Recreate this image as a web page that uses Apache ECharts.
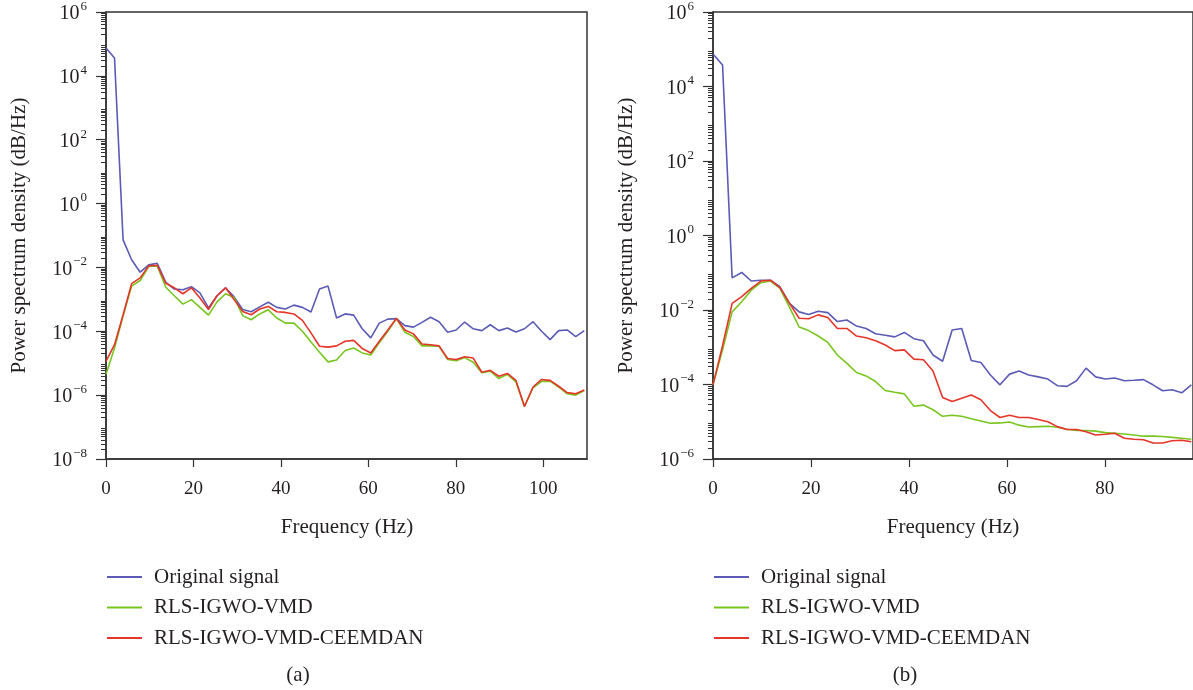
<!DOCTYPE html>
<html>
<head>
<meta charset="utf-8">
<script src="https://cdn.jsdelivr.net/npm/echarts@6/dist/echarts.min.js"></script>
<style>
html,body{margin:0;padding:0;background:#fff;}
#chart{width:1193px;height:690px;}
</style>
</head>
<body>
<div id="chart"></div>
<script>
// ---------- DATA ----------
const freq = [0, 1.95, 3.91, 5.86, 7.81, 9.77, 11.72, 13.67, 15.63, 17.58, 19.53, 21.48, 23.44, 25.39, 27.34, 29.30, 31.25, 33.20, 35.16, 37.11, 39.06, 41.02, 42.97, 44.92, 46.88, 48.83, 50.78, 52.73, 54.69, 56.64, 58.59, 60.55, 62.50, 64.45, 66.41, 68.36, 70.31, 72.27, 74.22, 76.17, 78.13, 80.08, 82.03, 83.98, 85.94, 87.89, 89.84, 91.80, 93.75, 95.70, 97.66, 99.61, 101.56, 103.52, 105.47, 107.42, 109.38];

const seriesNames = ['Original signal', 'RLS-IGWO-VMD', 'RLS-IGWO-VMD-CEEMDAN'];

// (a)
const leftOriginal = [7.5e4, 3.6e4, 0.073, 0.0174, 0.0071, 0.012, 0.0135, 0.0034, 0.0021, 0.002, 0.0025, 0.0016, 5.4e-4, 0.0013, 0.0023, 0.0012, 4.8e-4, 4.1e-4, 5.8e-4, 8.1e-4, 5.6e-4, 5.0e-4, 6.6e-4, 5.6e-4, 4.0e-4, 0.0021, 0.0026, 2.6e-4, 3.5e-4, 3.2e-4, 1.2e-4, 6.2e-5, 1.8e-4, 2.4e-4, 2.5e-4, 1.5e-4, 1.35e-4, 1.9e-4, 2.75e-4, 2.0e-4, 9.3e-5, 1.1e-4, 1.95e-4, 1.2e-4, 1.05e-4, 1.6e-4, 1.05e-4, 1.26e-4, 9.5e-5, 1.2e-4, 2.0e-4, 1.0e-4, 5.5e-5, 1.05e-4, 1.1e-4, 6.8e-5, 1.05e-4];
const leftVMD = [4.5e-6, 3.0e-5, 3.0e-4, 0.0026, 0.0039, 0.0107, 0.0112, 0.0024, 0.0013, 7.1e-4, 9.8e-4, 5.6e-4, 3.2e-4, 8.3e-4, 0.0015, 0.00115, 3.1e-4, 2.3e-4, 3.5e-4, 4.7e-4, 2.6e-4, 1.8e-4, 1.8e-4, 1.0e-4, 4.6e-5, 2.2e-5, 1.1e-5, 1.26e-5, 2.5e-5, 3.0e-5, 2.1e-5, 1.8e-5, 4.4e-5, 1.0e-4, 2.5e-4, 9.3e-5, 6.9e-5, 3.5e-5, 3.5e-5, 3.4e-5, 1.3e-5, 1.2e-5, 1.5e-5, 1.07e-5, 5.0e-6, 5.6e-6, 3.3e-6, 4.5e-6, 2.6e-6, 4.4e-7, 1.7e-6, 2.7e-6, 2.75e-6, 1.8e-6, 1.1e-6, 1.0e-6, 1.4e-6];
const leftCEEMDAN = [1.15e-5, 3.8e-5, 3.3e-4, 0.0031, 0.0047, 0.0112, 0.0117, 0.0032, 0.0023, 0.0015, 0.0023, 0.0011, 4.8e-4, 0.0013, 0.0023, 9.8e-4, 4.2e-4, 3.3e-4, 5.0e-4, 6.0e-4, 4.1e-4, 3.9e-4, 3.5e-4, 2.2e-4, 8.9e-5, 3.4e-5, 3.2e-5, 3.5e-5, 4.9e-5, 5.2e-5, 2.9e-5, 2.1e-5, 4.9e-5, 1.1e-4, 2.5e-4, 1.1e-4, 8.3e-5, 4.0e-5, 3.8e-5, 3.5e-5, 1.4e-5, 1.3e-5, 1.6e-5, 1.45e-5, 5.2e-6, 6.0e-6, 3.9e-6, 4.8e-6, 2.9e-6, 4.4e-7, 1.8e-6, 3.1e-6, 2.9e-6, 1.9e-6, 1.2e-6, 1.1e-6, 1.45e-6];

// (b)
const rightOriginal = [7.5e4, 3.8e4, 0.073, 0.102, 0.060, 0.063, 0.063, 0.042, 0.015, 0.0089, 0.0076, 0.0093, 0.0085, 0.0049, 0.0054, 0.0037, 0.0032, 0.0023, 0.0021, 0.0019, 0.0025, 0.0017, 0.0015, 6.2e-4, 4.2e-4, 0.0029, 0.0032, 4.4e-4, 3.9e-4, 1.8e-4, 9.8e-5, 1.9e-4, 2.3e-4, 1.8e-4, 1.6e-4, 1.4e-4, 9.3e-5, 8.9e-5, 1.26e-4, 2.75e-4, 1.6e-4, 1.4e-4, 1.5e-4, 1.26e-4, 1.3e-4, 1.35e-4, 9.8e-5, 6.8e-5, 7.2e-5, 6.0e-5, 9.8e-5];
const rightVMD = [9.8e-5, 8.5e-4, 0.0089, 0.0166, 0.034, 0.054, 0.060, 0.038, 0.0117, 0.0035, 0.0028, 0.002, 0.00135, 6.2e-4, 3.7e-4, 2.1e-4, 1.7e-4, 1.2e-4, 6.9e-5, 6.2e-5, 5.6e-5, 2.6e-5, 2.8e-5, 2.1e-5, 1.4e-5, 1.5e-5, 1.4e-5, 1.2e-5, 1.05e-5, 9.1e-6, 9.3e-6, 9.8e-6, 8.1e-6, 7.2e-6, 7.4e-6, 7.6e-6, 7.1e-6, 6.3e-6, 5.8e-6, 5.8e-6, 5.6e-6, 5.1e-6, 4.9e-6, 4.7e-6, 4.4e-6, 4.1e-6, 4.1e-6, 4.0e-6, 3.8e-6, 3.6e-6, 3.4e-6];
const rightCEEMDAN = [9.8e-5, 0.0011, 0.015, 0.023, 0.038, 0.060, 0.063, 0.040, 0.015, 0.006, 0.0058, 0.0074, 0.0063, 0.0032, 0.0032, 0.002, 0.0018, 0.0015, 0.00115, 8.1e-4, 8.5e-4, 4.8e-4, 4.6e-4, 2.3e-4, 4.5e-5, 3.5e-5, 4.3e-5, 5.2e-5, 3.9e-5, 2.0e-5, 1.3e-5, 1.5e-5, 1.3e-5, 1.3e-5, 1.15e-5, 1.0e-5, 7.4e-6, 6.2e-6, 6.2e-6, 5.4e-6, 4.4e-6, 4.6e-6, 4.9e-6, 3.6e-6, 3.4e-6, 3.3e-6, 2.7e-6, 2.7e-6, 3.1e-6, 3.2e-6, 2.9e-6];

// axis ticks / labels
const xTicks = [0, 20, 40, 60, 80, 100];
const leftYMajor = [1e-8, 1e-6, 1e-4, 1e-2, 1, 1e2, 1e4, 1e6];
const rightYMajor = [1e-6, 1e-4, 1e-2, 1, 1e2, 1e4, 1e6];
const minorMultipliers = [2, 3, 4, 5, 6, 7, 8, 9];
const leftDecades = [-8, -7, -6, -5, -4, -3, -2, -1, 0, 1, 2, 3, 4, 5];
const rightDecades = [-6, -5, -4, -3, -2, -1, 0, 1, 2, 3, 4, 5];

// ---------- STYLE ----------
const FONT = 'Liberation Serif';
const TXT = '#231f20';
const AX = '#333333';
const colors = ['#5b5bb5', '#78c51e', '#e5352a'];

function minorTicks(decades) {
  const out = [];
  decades.forEach(d => minorMultipliers.forEach(m => out.push(m * Math.pow(10, d))));
  return out;
}
function supLabel(v) {
  const e = Math.round(Math.log10(v));
  const s = e < 0 ? '\u2212' + (-e) : String(e);
  return '{b|10}{s|' + s + '}';
}
const richLab = {
  b: {fontFamily: FONT, fontSize: 20, color: TXT, lineHeight: 24, verticalAlign: 'bottom'},
  s: {fontFamily: FONT, fontSize: 13, color: TXT, lineHeight: 14, verticalAlign: 'top', padding: [0, 0, 0, 1]}
};

function pairs(arr) { return arr.map((v, i) => [freq[i], v]); }

const grids = [
  {left: 106, top: 11, width: 481, height: 448, show: true, borderColor: AX, borderWidth: 1.5},
  {left: 713, top: 11, width: 480, height: 448, show: true, borderColor: AX, borderWidth: 1.5}
];

function xAxis(gi, max) {
  return {
    type: 'value', gridIndex: gi, min: 0, max: max,
    axisLine: {show: true, lineStyle: {color: AX, width: 1.5}},
    axisTick: {show: true, length: 8, lineStyle: {color: AX, width: 1.2}, customValues: xTicks.filter(t => t <= max)},
    axisLabel: {fontFamily: FONT, fontSize: 19, color: TXT, margin: 21, customValues: xTicks.filter(t => t <= max)},
    splitLine: {show: false}
  };
}
function yMajor(gi, min, max, labels) {
  return {
    type: 'log', logBase: 10, gridIndex: gi, min: min, max: max,
    name: 'Power spectrum density (dB/Hz)', nameLocation: 'middle', nameGap: 76, nameRotate: 90,
    nameTextStyle: {fontFamily: FONT, fontSize: 21, color: TXT},
    axisLine: {show: true, lineStyle: {color: AX, width: 1.5}},
    axisTick: {show: true, length: 10, lineStyle: {color: AX, width: 1.2}, customValues: labels},
    axisLabel: {customValues: labels, formatter: supLabel, rich: richLab, margin: 19},
    splitLine: {show: false}, minorTick: {show: false}
  };
}
function yMinor(gi, min, max, decades) {
  return {
    type: 'log', logBase: 10, gridIndex: gi, min: min, max: max, position: 'left', offset: 0,
    axisLine: {show: false},
    axisTick: {show: true, length: 5, lineStyle: {color: AX, width: 1}, customValues: minorTicks(decades).filter(v => v > min && v < max)},
    axisLabel: {show: false},
    splitLine: {show: false}
  };
}

const series = [];
[[leftOriginal, leftVMD, leftCEEMDAN], [rightOriginal, rightVMD, rightCEEMDAN]].forEach((set, gi) => {
  set.forEach((arr, k) => {
    series.push({
      name: seriesNames[k], type: 'line', xAxisIndex: gi, yAxisIndex: gi * 2,
      data: pairs(arr), symbol: 'none', smooth: false, animation: false,
      lineStyle: {color: colors[k], width: 1.6}, itemStyle: {color: colors[k]},
      z: k === 0 ? 2 : (k === 1 ? 3 : 4)
    });
  });
});

function legend(left) {
  return {
    orient: 'vertical', left: left, top: 566, padding: 0, itemWidth: 35, itemHeight: 2, itemGap: 8.5,
    icon: 'rect', data: seriesNames, selectedMode: false,
    textStyle: {fontFamily: FONT, fontSize: 21, color: TXT, lineHeight: 22, padding: [0, 0, 0, 7]}
  };
}

const option = {
  backgroundColor: '#fff',
  animation: false,
  grid: grids,
  xAxis: [xAxis(0, 110), xAxis(1, 98)],
  yAxis: [yMajor(0, 1e-8, 1e6, leftYMajor), yMinor(0, 1e-8, 1e6, leftDecades),
          yMajor(1, 1e-6, 1e6, rightYMajor), yMinor(1, 1e-6, 1e6, rightDecades)],
  legend: [legend(107), legend(714)],
  series: series,
  graphic: [
    {type: 'text', style: {text: 'Frequency (Hz)', fontFamily: FONT, fontSize: 21, fill: TXT, x: 347, y: 527, align: 'center', verticalAlign: 'middle'}},
    {type: 'text', style: {text: 'Frequency (Hz)', fontFamily: FONT, fontSize: 21, fill: TXT, x: 953, y: 527, align: 'center', verticalAlign: 'middle'}},
    {type: 'text', style: {text: '(a)', fontFamily: FONT, fontSize: 21, fill: TXT, x: 298, y: 675, align: 'center', verticalAlign: 'middle'}},
    {type: 'text', style: {text: '(b)', fontFamily: FONT, fontSize: 21, fill: TXT, x: 905, y: 675, align: 'center', verticalAlign: 'middle'}}
  ]
};

const chart = echarts.init(document.getElementById('chart'), null, {renderer: 'canvas'});
chart.setOption(option);
</script>
</body>
</html>
